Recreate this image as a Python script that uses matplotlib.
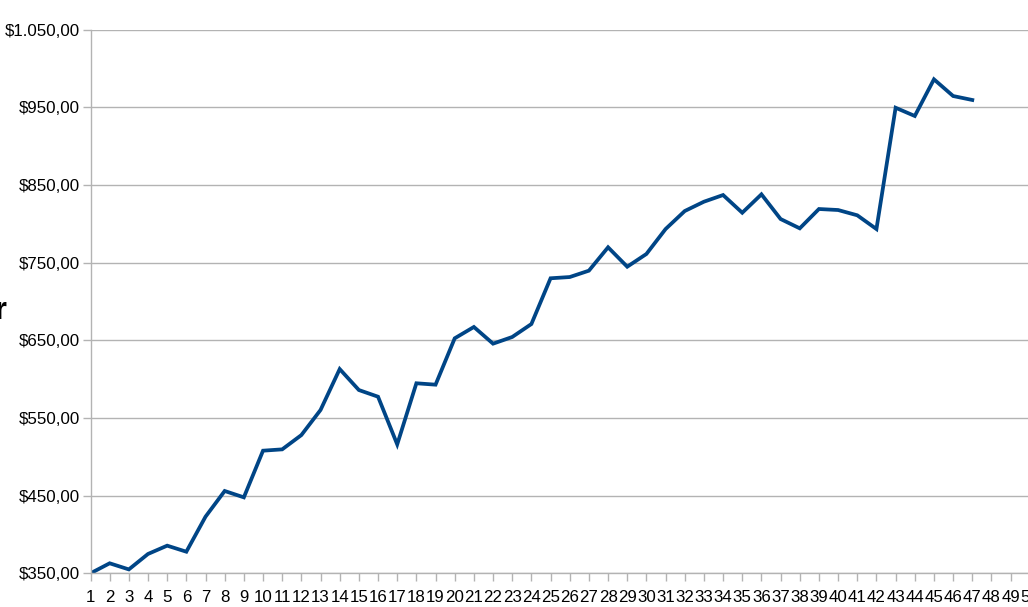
import matplotlib
matplotlib.use("Agg")
import matplotlib.pyplot as plt
from matplotlib.ticker import FuncFormatter

periods = list(range(1, 48))
values = [350.0, 362.9, 355.0, 374.9, 385.6, 377.8, 422.9, 456.0, 447.8, 507.9,
          509.6, 528.0, 560.3, 613.0, 586.0, 577.4, 516.0, 594.7, 592.9, 652.6,
          667.2, 645.7, 654.3, 671.0, 729.9, 731.5, 739.7, 769.8, 744.8, 761.2,
          793.3, 816.5, 828.5, 837.1, 814.3, 838.0, 806.2, 794.2, 819.1, 817.8,
          811.0, 793.3, 949.5, 938.9, 986.1, 964.6, 959.5]
x_ticks = list(range(1, 51))
y_ticks = [350, 450, 550, 650, 750, 850, 950, 1050]

plt.rcParams['font.family'] = ['Liberation Sans', 'DejaVu Sans']

W, H = 1028, 607
fig = plt.figure(figsize=(W / 100, H / 100), dpi=100)
left_px, right_px = 90.5, 1029.8
top_px, bottom_px = 29.7, 573.3
ax = fig.add_axes([left_px / W, 1 - bottom_px / H,
                   (right_px - left_px) / W, (bottom_px - top_px) / H])

ax.plot(periods, values, color='#004586', linewidth=2.7, solid_joinstyle='miter')

ax.set_xlim(1, 50)
ax.set_ylim(350, 1050)
ax.set_xticks(x_ticks)
ax.set_yticks(y_ticks)

def money(v, pos):
    s = f"{v:,.2f}"
    s = s.replace(',', 'X').replace('.', ',').replace('X', '.')
    return '$' + s

ax.yaxis.set_major_formatter(FuncFormatter(money))
ax.grid(axis='y', color='#b3b3b3', linewidth=1.0)
ax.set_axisbelow(True)

for side in ['top', 'right']:
    ax.spines[side].set_visible(False)
for side in ['left', 'bottom']:
    ax.spines[side].set_color('#b3b3b3')
    ax.spines[side].set_linewidth(1.0)

ax.tick_params(axis='both', colors='#b3b3b3', length=5.5, width=1.0,
               labelcolor='black', labelsize=12.2, direction='out')
ax.tick_params(axis='x', pad=6.5)
ax.tick_params(axis='y', pad=2)

fig.text(7 / W, 1 - 319 / H, 'r', ha='right', va='baseline',
         fontsize=22, fontweight='bold', color='black')

fig.savefig('out.png', dpi=100)
